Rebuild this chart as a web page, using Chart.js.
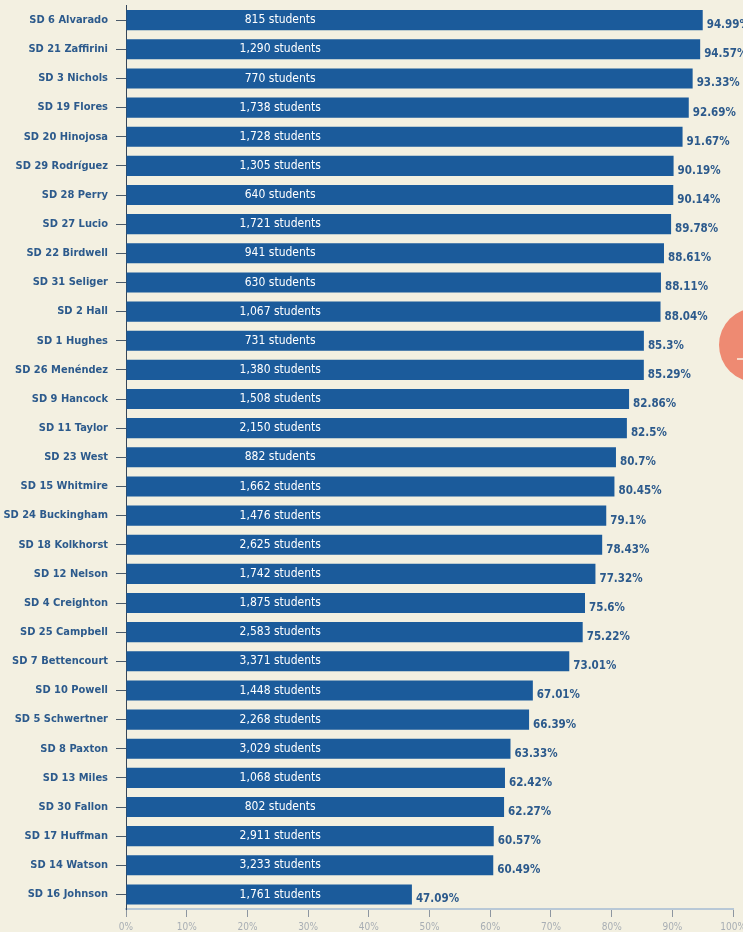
<!DOCTYPE html>
<html>
<head>
<meta charset="utf-8">
<script src="https://cdn.jsdelivr.net/npm/chart.js@4.4.1/dist/chart.umd.min.js"></script>
<style>
  html, body { margin: 0; padding: 0; background: #f3f0e1; overflow: hidden; }
  #wrap { width: 743px; height: 932px; position: relative; overflow: hidden; }
  #c { position: absolute; left: 0; top: -9px; }
</style>
</head>
<body>
<div id="wrap"><canvas id="c" width="750" height="941"></canvas></div>
<script>
const districts = [
  "SD 6 Alvarado", "SD 21 Zaffirini", "SD 3 Nichols", "SD 19 Flores", "SD 20 Hinojosa",
  "SD 29 Rodríguez", "SD 28 Perry", "SD 27 Lucio", "SD 22 Birdwell", "SD 31 Seliger",
  "SD 2 Hall", "SD 1 Hughes", "SD 26 Menéndez", "SD 9 Hancock", "SD 11 Taylor",
  "SD 23 West", "SD 15 Whitmire", "SD 24 Buckingham", "SD 18 Kolkhorst", "SD 12 Nelson",
  "SD 4 Creighton", "SD 25 Campbell", "SD 7 Bettencourt", "SD 10 Powell", "SD 5 Schwertner",
  "SD 8 Paxton", "SD 13 Miles", "SD 30 Fallon", "SD 17 Huffman", "SD 14 Watson",
  "SD 16 Johnson"
];
const percents = [
  94.99, 94.57, 93.33, 92.69, 91.67,
  90.19, 90.14, 89.78, 88.61, 88.11,
  88.04, 85.3, 85.29, 82.86, 82.5,
  80.7, 80.45, 79.1, 78.43, 77.32,
  75.6, 75.22, 73.01, 67.01, 66.39,
  63.33, 62.42, 62.27, 60.57, 60.49,
  47.09
];
const students = [
  815, 1290, 770, 1738, 1728,
  1305, 640, 1721, 941, 630,
  1067, 731, 1380, 1508, 2150,
  882, 1662, 1476, 2625, 1742,
  1875, 2583, 3371, 1448, 2268,
  3029, 1068, 802, 2911, 3233,
  1761
];
const xTicks = [0, 10, 20, 30, 40, 50, 60, 70, 80, 90, 100];

const NARROW = '"DejaVu Sans Condensed", "Liberation Sans Narrow", "Roboto", sans-serif';
const BG = '#f3f0e1';
const BAR = '#1b5b9b';
const LABEL = '#2c5a8c';

const bgPlugin = {
  id: 'bg',
  beforeDraw(chart) {
    const ctx = chart.ctx;
    ctx.save();
    ctx.fillStyle = BG;
    ctx.fillRect(0, 0, chart.width, chart.height);
    ctx.restore();
  }
};

const labelPlugin = {
  id: 'barLabels',
  afterDatasetsDraw(chart) {
    const ctx = chart.ctx;
    const meta = chart.getDatasetMeta(0);
    const xs = chart.scales.x;
    const innerX = xs.getPixelForValue(25.4);
    ctx.save();
    meta.data.forEach((bar, i) => {
      ctx.font = '12px ' + NARROW;
      ctx.fillStyle = '#ffffff';
      ctx.textAlign = 'center';
      ctx.textBaseline = 'middle';
      ctx.fillText(students[i].toLocaleString('en-US') + ' students', innerX, bar.y);
      ctx.font = 'bold 11.5px ' + NARROW;
      ctx.fillStyle = LABEL;
      ctx.textAlign = 'left';
      ctx.fillText(String(percents[i]) + '%', bar.x + 4, bar.y + 5);
    });
    ctx.restore();
  },
  afterDraw(chart) {
    const ctx = chart.ctx;
    ctx.save();
    ctx.beginPath();
    ctx.arc(756, 354, 37, 0, Math.PI * 2);
    ctx.fillStyle = '#ee8a72';
    ctx.fill();
    ctx.fillStyle = '#f8d8c8';
    ctx.fillRect(737, 367, 8, 2);
    ctx.restore();
  }
};

new Chart(document.getElementById('c'), {
  type: 'bar',
  data: {
    labels: districts,
    datasets: [{
      data: percents,
      backgroundColor: BAR,
      borderWidth: 0,
      barPercentage: 0.69,
      categoryPercentage: 1.0
    }]
  },
  options: {
    indexAxis: 'y',
    responsive: false,
    animation: false,
    devicePixelRatio: 1,
    layout: { padding: { top: 0, right: 4, left: 0, bottom: 0 } },
    plugins: {
      legend: { display: false },
      tooltip: { enabled: false }
    },
    scales: {
      x: {
        min: 0,
        max: 100,
        afterBuildTicks(scale) { scale.ticks = xTicks.map(v => ({ value: v })); },
        afterFit(scale) { scale.height = 23; },
        border: { display: true, color: '#b8c8d6', width: 2 },
        grid: { drawOnChartArea: false, drawTicks: true, tickLength: 8, tickColor: '#8d96a0', lineWidth: 1 },
        ticks: {
          padding: 4,
          color: '#a8aeb4',
          font: { family: NARROW, size: 10 },
          callback: v => v + '%'
        }
      },
      y: {
        afterFit(scale) { scale.width = 126; },
        border: { display: true, color: '#34465a', width: 1 },
        grid: { offset: false, drawOnChartArea: false, drawTicks: true, tickLength: 10, tickColor: '#4a5a6a', lineWidth: 1 },
        ticks: {
          padding: 8,
          color: LABEL,
          autoSkip: false,
          font: { family: NARROW, size: 11, weight: 'bold' }
        }
      }
    }
  },
  plugins: [bgPlugin, labelPlugin]
});
</script>
</body>
</html>
